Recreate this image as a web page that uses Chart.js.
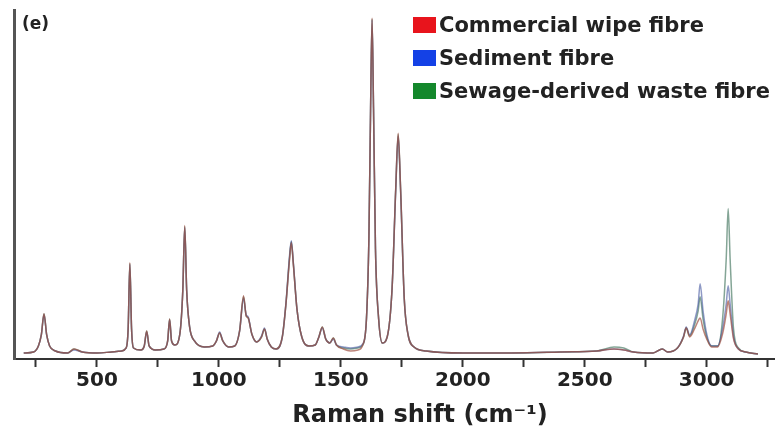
<!DOCTYPE html>
<html>
<head>
<meta charset="utf-8">
<script src="https://cdn.jsdelivr.net/npm/chart.js@4/dist/chart.umd.min.js"></script>
<style>
  html, body { margin: 0; padding: 0; background: #fff; }
  #wrap { position: relative; width: 775px; height: 428px; }
  #panel { position: absolute; left: 22px; top: 13px; font: bold 17px "DejaVu Sans", sans-serif; color: #222; }
  #legend { position: absolute; left: 413px; top: 13px; font: bold 21px "DejaVu Sans", sans-serif; color: #222; }
  #legend div { height: 33px; line-height: 24px; white-space: nowrap; }
  #legend span.box { display: inline-block; width: 23px; height: 16px; margin-right: 3px; vertical-align: -1px; }
  #xtitle { position: absolute; left: 420px; top: 414px; transform: translate(-50%, -50%); font: bold 24px "DejaVu Sans", sans-serif; color: #222; white-space: nowrap; }
</style>
</head>
<body>
<div id="wrap">
  <canvas id="chart" width="775" height="428"></canvas>
  <div id="panel">(e)</div>
  <div id="legend"></div>
  <div id="xtitle">Raman shift (cm⁻¹)</div>
</div>
<script>
// Raman shift (cm-1), shared by all three spectra
const shift = [200,240,260,272,283,294,306,330,380,406,
  440,500,560,600,620,628,635,642,650,680,
  694,704,714,740,775,790,798,806,820,840,
  852,860,868,880,900,940,975,990,1003,1016,
  1040,1065,1085,1101,1112,1120,1135,1155,1175,1187,
  1198,1215,1235,1260,1275,1290,1297,1305,1320,1340,
  1370,1395,1410,1424,1438,1455,1469,1482,1510,1540,
  1570,1590,1605,1615,1622,1628,1634,1642,1655,1670,
  1690,1710,1725,1735,1745,1760,1775,1800,1850,2000,
  2200,2400,2550,2620,2660,2700,2780,2818,2840,2880,
  2905,2916,2930,2950,2965,2973,2985,3000,3020,3045,
  3065,3080,3088,3096,3110,3130,3160,3210];

// intensities (arbitrary units)
const wipe = [6,7,13,24,45,24,13,8,6,10,
  7,6,7,8,11,30,96,30,11,9,
  13,28,13,9,10,18,40,18,14,25,
  68,133,68,32,18,12,13,18,26,18,
  12,13,28,63,43,41,25,17,22,30,
  20,12,10,22,55,100,116,95,50,22,
  13,14,22,32,20,16,21,14,10,8,
  9,14,40,120,250,340,250,110,40,16,
  22,70,170,225,170,60,25,12,8,6,
  6,7,8,10,9,7,6,10,7,11,
  22,31,22,30,38,41,30,20,12,12,
  25,45,58,45,20,10,7,5];

const sediment = [6,7,13,24,44,24,13,8,6,9,
  7,6,7,8,11,30,94,30,11,9,
  13,27,13,9,10,18,39,18,14,25,
  68,131,68,32,18,12,13,18,27,18,
  12,13,28,60,44,42,25,17,23,31,
  20,12,10,22,56,104,118,97,50,22,
  13,14,22,31,20,16,20,14,12,11,
  12,15,40,120,250,338,250,110,40,16,
  22,70,168,222,168,60,25,12,8,6,
  6,7,8,10,9,7,6,10,7,11,
  23,32,24,38,55,75,48,25,13,13,
  30,55,73,55,22,10,7,5];

const sewage = [6,7,13,24,45,24,13,8,6,10,
  7,6,7,8,11,30,95,30,11,9,
  13,28,13,9,10,18,40,18,14,25,
  68,132,68,32,18,12,13,18,26,18,
  12,13,28,62,43,41,25,17,22,30,
  20,12,10,22,55,102,117,96,50,22,
  13,14,22,32,20,16,21,14,11,10,
  11,14,40,120,250,339,250,110,40,16,
  22,70,169,224,169,60,25,12,8,6,
  6,7,8,12,11,7,6,10,7,11,
  22,31,23,34,48,62,40,22,13,13,
  40,100,150,100,30,11,7,5];

const seriesNames = ['Commercial wipe fibre', 'Sediment fibre', 'Sewage-derived waste fibre'];
const legendColors = ['#e8141c', '#1441e6', '#14882c'];
const lineColors = ['rgba(160,80,65,0.7)', 'rgba(50,70,150,0.55)', 'rgba(50,105,80,0.6)'];
const xTicks = [250,500,750,1000,1250,1500,1750,2000,2250,2500,2750,3000,3250];

const toPoints = ys => shift.map((x, i) => ({ x: x, y: ys[i] }));

// legend in the top right corner
const legend = document.getElementById('legend');
seriesNames.forEach((name, i) => {
  const row = document.createElement('div');
  row.innerHTML = '<span class="box" style="background:' + legendColors[i] + '"></span>' + name;
  legend.appendChild(row);
});

Chart.defaults.font.family = '"DejaVu Sans", sans-serif';

new Chart(document.getElementById('chart'), {
  type: 'line',
  data: {
    datasets: [
      { label: seriesNames[0], data: toPoints(wipe), borderColor: lineColors[0] },
      { label: seriesNames[1], data: toPoints(sediment), borderColor: lineColors[1] },
      { label: seriesNames[2], data: toPoints(sewage), borderColor: lineColors[2] }
    ]
  },
  options: {
    responsive: false,
    animation: false,
    cubicInterpolationMode: 'monotone',
    elements: { point: { radius: 0 }, line: { borderWidth: 1.5 } },
    layout: { padding: { left: 6, top: 10, right: 0, bottom: 33 } },
    plugins: { legend: { display: false }, tooltip: { enabled: false } },
    scales: {
      x: {
        type: 'linear',
        min: 160,
        max: 3280,
        afterBuildTicks: axis => { axis.ticks = xTicks.map(v => ({ value: v })); },
        ticks: {
          autoSkip: false,
          maxRotation: 0,
          padding: 2,
          color: '#222',
          font: { size: 20, weight: 'bold' },
          callback: v => (v % 500 === 0 ? v : '')
        },
        grid: { drawOnChartArea: false, drawTicks: true, tickLength: 8, tickColor: '#333', tickWidth: 2 },
        border: { display: true, color: '#333', width: 2 }
      },
      y: {
        min: 0,
        max: 348,
        ticks: { display: false },
        grid: { display: false },
        border: { display: true, color: '#555', width: 3 }
      }
    }
  }
});
</script>
</body>
</html>
